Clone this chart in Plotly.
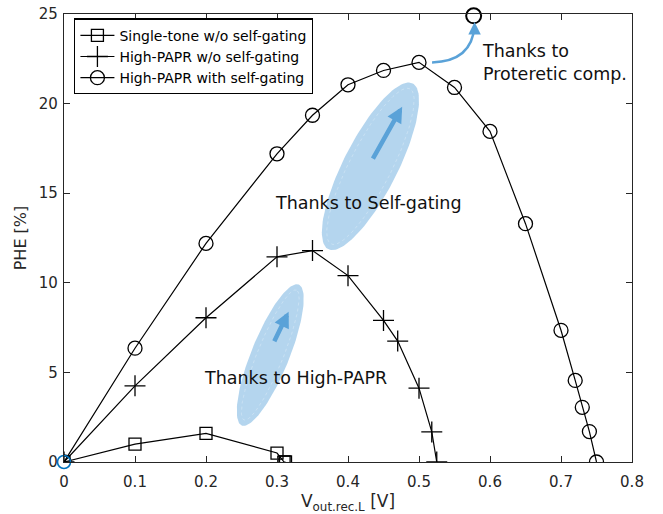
import numpy as np
import plotly.graph_objects as go

# ---- measured data ----
x_single = [0.0, 0.1, 0.2, 0.3, 0.31, 0.312]
y_single = [0.0, 1.0, 1.6, 0.5, 0.0, 0.0]

x_papr = [0.0, 0.1, 0.2, 0.3, 0.35, 0.4, 0.45, 0.47, 0.5, 0.518, 0.525]
y_papr = [0.0, 4.25, 8.05, 11.45, 11.8, 10.4, 7.9, 6.75, 4.12, 1.68, 0.0]

x_gate = [0.0, 0.1, 0.2, 0.3, 0.35, 0.4, 0.45, 0.5, 0.55, 0.6, 0.65, 0.7, 0.72, 0.73, 0.74, 0.75]
y_gate = [0.0, 6.35, 12.2, 17.2, 19.35, 21.05, 21.85, 22.3, 20.9, 18.45, 13.3, 7.35, 4.55, 3.05, 1.7, 0.0]

x_comp = [0.577]
y_comp = [24.9]

x_ticks = [0, 0.1, 0.2, 0.3, 0.4, 0.5, 0.6, 0.7, 0.8]
y_ticks = [0, 5, 10, 15, 20, 25]

names = ["Single-tone w/o self-gating", "High-PAPR w/o self-gating", "High-PAPR with self-gating"]

# ---- layout geometry ----
W, H = 663, 514
ML, MR, MT, MB = 64, 31, 14, 52
XR, YR = (0, 0.8), (0, 25)
PW, PH = W - ML - MR, H - MT - MB
sx = PW / (XR[1] - XR[0])   # px per x unit
sy = PH / (YR[1] - YR[0])   # px per y unit

FONT = "DejaVu Sans"
INK = "#262626"
FILL = "#b4d5ee"
ARROW = "#5aa2d8"


def ellipse(cx, cy, a_px, b_px, ang_deg, n=140):
    """Rotated ellipse in screen space, returned in data coordinates."""
    t = np.linspace(0, 2 * np.pi, n)
    th = np.radians(ang_deg)
    u = a_px * np.cos(t)
    v = b_px * np.sin(t)
    dx = u * np.cos(th) - v * np.sin(th)
    dy = u * np.sin(th) + v * np.cos(th)
    return cx + dx / sx, cy + dy / sy


fig = go.Figure()

# highlight ellipses (behind the curves)
for (cx, cy, a, b, ang) in [(0.4316, 16.5, 93, 27, 63), (0.2905, 5.97, 76, 19, 68)]:
    ex, ey = ellipse(cx, cy, a, b, ang)
    fig.add_trace(go.Scatter(x=ex, y=ey, mode="lines", fill="toself", fillcolor=FILL,
                             line=dict(width=0), hoverinfo="skip", showlegend=False))
    ix, iy = ellipse(cx, cy, a - 6, b - 6, ang)
    fig.add_trace(go.Scatter(x=ix, y=iy, mode="lines",
                             line=dict(width=0.6, color="rgba(255,255,255,0.45)", dash="dot"),
                             hoverinfo="skip", showlegend=False))

line_style = dict(color="black", width=1.2)
fig.add_trace(go.Scatter(x=x_single, y=y_single, mode="lines+markers", name=names[0],
                         line=line_style,
                         marker=dict(symbol="square-open", size=12, color="black",
                                     line=dict(width=1.3, color="black"))))
fig.add_trace(go.Scatter(x=x_papr, y=y_papr, mode="lines+markers", name=names[1],
                         line=line_style,
                         marker=dict(symbol="cross-thin-open", size=15, color="black",
                                     line=dict(width=1.3, color="black"))))
fig.add_trace(go.Scatter(x=x_gate, y=y_gate, mode="lines+markers", name=names[2],
                         line=line_style,
                         marker=dict(symbol="circle-open", size=14, color="black",
                                     line=dict(width=1.3, color="black"))))
fig.add_trace(go.Scatter(x=x_comp, y=y_comp, mode="markers", showlegend=False,
                         marker=dict(symbol="circle-open", size=15, color="black",
                                     line=dict(width=2, color="black")),
                         cliponaxis=False))
# origin reference point
fig.add_trace(go.Scatter(x=[0], y=[0], mode="markers", showlegend=False,
                         marker=dict(symbol="circle-open", size=13, color="#0072BD",
                                     line=dict(width=1.6, color="#0072BD")),
                         cliponaxis=False))

annotations = []
# straight arrows inside ellipses
for (x0, y0, x1, y1) in [(0.4339, 16.85, 0.4763, 19.83), (0.2952, 6.66, 0.3164, 8.39)]:
    annotations.append(dict(x=x1, y=y1, ax=x0, ay=y0, xref="x", yref="y", axref="x", ayref="y",
                            showarrow=True, arrowhead=2, arrowsize=0.7, arrowwidth=4.5,
                            arrowcolor=ARROW, text=""))

# curved arrow towards the compensated point
p0 = (0.5184, 22.3)
pc = (0.5745, 22.35)
p1 = (0.5783, 24.35)
fig.add_shape(type="path", xref="x", yref="y",
              path=f"M {p0[0]},{p0[1]} Q {pc[0]},{pc[1]} {p1[0]},{p1[1]}",
              line=dict(color=ARROW, width=2.5))
annotations.append(dict(x=p1[0], y=24.55, ax=0, ay=10, xref="x", yref="y",
                        showarrow=True, arrowhead=2, arrowsize=1.0, arrowwidth=2.5,
                        arrowcolor=ARROW, text=""))

text_font = dict(family=FONT, size=17.5, color="#111111")
annotations += [
    dict(x=0.4295, y=14.45, xref="x", yref="y", text="Thanks to Self-gating",
         showarrow=False, font=text_font, xanchor="center", yanchor="middle"),
    dict(x=0.3265, y=4.69, xref="x", yref="y", text="Thanks to High-PAPR",
         showarrow=False, font=text_font, xanchor="center", yanchor="middle"),
    dict(x=0.5853, y=22.27, xref="x", yref="y", text="Thanks to<br>Proteretic comp.",
         showarrow=False, font=text_font, xanchor="left", yanchor="middle", align="left"),
]

axis_common = dict(showline=True, linecolor=INK, linewidth=1.4, mirror="allticks",
                   ticks="inside", ticklen=6, tickwidth=1.2, tickcolor=INK,
                   showgrid=False, zeroline=False, automargin=False,
                   tickfont=dict(family=FONT, size=15, color=INK))

fig.update_layout(
    width=W, height=H,
    margin=dict(l=ML, r=MR, t=MT, b=MB, autoexpand=False),
    paper_bgcolor="white", plot_bgcolor="white",
    font=dict(family=FONT, color=INK),
    xaxis=dict(range=list(XR), tickvals=x_ticks, ticktext=[f"{v:g}" for v in x_ticks],
               ticklabelstandoff=6,
               title=dict(text="V<sub>out.rec.L</sub> [V]", font=dict(family=FONT, size=17, color=INK),
                          standoff=4),
               **axis_common),
    yaxis=dict(range=list(YR), tickvals=y_ticks, ticktext=[str(v) for v in y_ticks],
               ticklabelstandoff=2,
               title=dict(text="PHE [%]", font=dict(family=FONT, size=16, color=INK), standoff=8),
               **axis_common),
    legend=dict(x=0.018, y=0.99, xanchor="left", yanchor="top",
                bgcolor="white", bordercolor="black", borderwidth=1.2,
                font=dict(family=FONT, size=14, color="black"),
                tracegroupgap=0, itemwidth=34),
    annotations=annotations,
    showlegend=True,
)

fig.write_html("out.html")
